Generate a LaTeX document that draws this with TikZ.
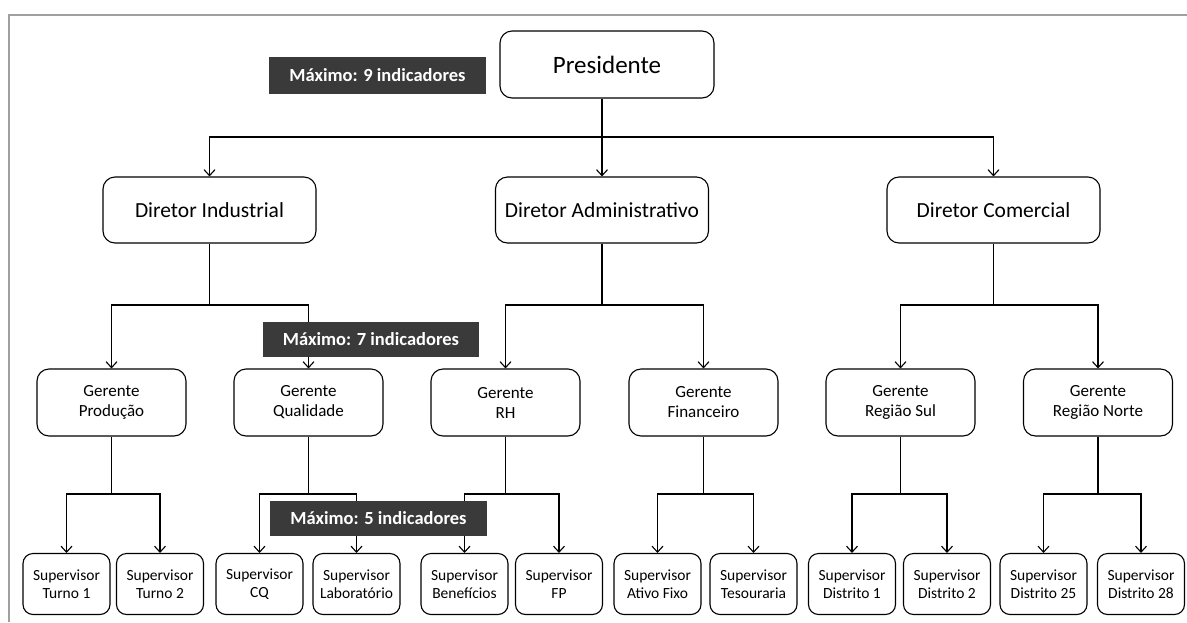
\documentclass[tikz,border=0pt]{standalone}
\usepackage{fontspec}
\setmainfont{Carlito}
\usetikzlibrary{arrows.meta}
\definecolor{darklab}{HTML}{3A3A3A}
\definecolor{framegray}{HTML}{A0A0A0}
\tikzset{
  box/.style={draw=black, line width=1.1pt, rounded corners=12pt, fill=white, inner sep=0pt, align=center},
  topbox/.style={box, minimum width=214pt, minimum height=67pt, font=\fontsize{25}{28}\selectfont},
  dirbox/.style={box, minimum width=213pt, minimum height=66pt, font=\fontsize{21.5}{24}\selectfont},
  gerbox/.style={box, minimum width=149pt, minimum height=67pt, font=\fontsize{17}{20}\selectfont},
  supbox/.style={box, rounded corners=10pt, minimum width=87pt, minimum height=61pt, font=\fontsize{15.5}{18}\selectfont},
  maxlab/.style={fill=darklab, text=white, inner sep=0pt, font=\bfseries\fontsize{18.5}{20}\selectfont},
  conn/.style={draw=black, line width=1.1pt},
  arr/.style={conn, -{Straight Barb[length=6pt,width=11pt,line width=1.1pt]}}
}
\begin{document}
\begin{tikzpicture}[x=1pt,y=-1pt]
\useasboundingbox (0,0) rectangle (1187,622);
% frame
\draw[framegray, line width=2pt] (9,622) -- (9,15) -- (1187,15);

% nodes
\node[topbox] (pres) at (607,64.5) {Presidente};

\node[dirbox] (dind) at (209.5,210) {Diretor Industrial};
\node[dirbox] (dadm) at (602,210) {Diretor Administrativo};
\node[dirbox] (dcom) at (993.5,210) {Diretor Comercial};

\node[gerbox] (gprod) at (111.5,402.5) {Gerente\\Produção};
\node[gerbox] (gqual) at (308.5,402.5) {Gerente\\Qualidade};
\node[gerbox] (grh) at (505.5,402.5) {Gerente\\RH};
\node[gerbox] (gfin) at (703.5,402.5) {Gerente\\Financeiro};
\node[gerbox] (gsul) at (900.5,402.5) {Gerente\\Região Sul};
\node[gerbox] (gnor) at (1098,402.5) {Gerente\\Região Norte};

\node[supbox] (s1) at (66.5,584) {Supervisor\\Turno 1};
\node[supbox] (s2) at (160,584) {Supervisor\\Turno 2};
\node[supbox] (s3) at (259.5,584) {Supervisor\\CQ};
\node[supbox] (s4) at (356.5,584) {Supervisor\\Laboratório};
\node[supbox] (s5) at (464.5,584) {Supervisor\\Benefícios};
\node[supbox] (s6) at (559,584) {Supervisor\\FP};
\node[supbox] (s7) at (657.5,584) {Supervisor\\Ativo Fixo};
\node[supbox] (s8) at (753.5,584) {Supervisor\\Tesouraria};
\node[supbox] (s9) at (852,584) {Supervisor\\Distrito 1};
\node[supbox] (s10) at (947,584) {Supervisor\\Distrito 2};
\node[supbox] (s11) at (1043.5,584) {Supervisor\\Distrito 25};
\node[supbox] (s12) at (1141,584) {Supervisor\\Distrito 28};

% junctions
\coordinate (j0) at (602,137);
\coordinate (ja) at (209.5,305);
\coordinate (jb) at (602,305);
\coordinate (jc) at (993.5,305);
\coordinate (k1) at (111.5,494);
\coordinate (k2) at (308.5,494);
\coordinate (k3) at (505.5,494);
\coordinate (k4) at (703.5,494);
\coordinate (k5) at (900.5,494);
\coordinate (k6) at (1098,494);

% connectors level 1
\draw[conn] (pres.south -| j0) -- (j0);
\draw[arr] (j0) -| (dind);
\draw[arr] (j0) -- (dadm);
\draw[arr] (j0) -| (dcom);

% level 2
\draw[conn] (dind) -- (ja);
\draw[arr] (ja) -| (gprod);
\draw[arr] (ja) -| (gqual);
\draw[conn] (dadm) -- (jb);
\draw[arr] (jb) -| (grh);
\draw[arr] (jb) -| (gfin);
\draw[conn] (dcom) -- (jc);
\draw[arr] (jc) -| (gsul);
\draw[arr] (jc) -| (gnor);

% level 3
\draw[conn] (gprod) -- (k1);
\draw[arr] (k1) -| (s1);
\draw[arr] (k1) -| (s2);
\draw[conn] (gqual) -- (k2);
\draw[arr] (k2) -| (s3);
\draw[arr] (k2) -| (s4);
\draw[conn] (grh) -- (k3);
\draw[arr] (k3) -| (s5);
\draw[arr] (k3) -| (s6);
\draw[conn] (gfin) -- (k4);
\draw[arr] (k4) -| (s7);
\draw[arr] (k4) -| (s8);
\draw[conn] (gsul) -- (k5);
\draw[arr] (k5) -| (s9);
\draw[arr] (k5) -| (s10);
\draw[conn] (gnor) -- (k6);
\draw[arr] (k6) -| (s11);
\draw[arr] (k6) -| (s12);

% labels
\node[maxlab, minimum width=217pt, minimum height=37pt] (m9) at (377.5,75.5) {Máximo: 9 indicadores};
\node[maxlab, minimum width=216pt, minimum height=35pt] (m7) at (371,339.5) {Máximo: 7 indicadores};
\node[maxlab, minimum width=217pt, minimum height=35pt] (m5) at (378.5,518.5) {Máximo: 5 indicadores};
\end{tikzpicture}
\end{document}
